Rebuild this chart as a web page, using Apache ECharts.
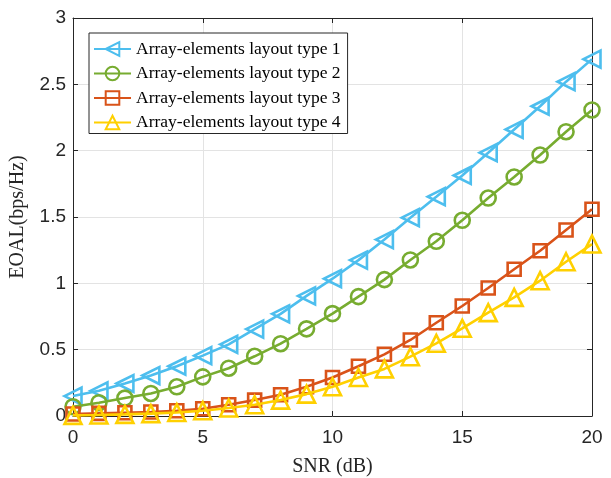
<!DOCTYPE html>
<html>
<head>
<meta charset="utf-8">
<script src="https://cdn.jsdelivr.net/npm/echarts@6/dist/echarts.min.js"></script>
<style>html,body{margin:0;padding:0;background:#fff}#c{width:611px;height:478px}</style>
</head>
<body>
<div id="c"></div>
<script>
const snr = [0,1,2,3,4,5,6,7,8,9,10,11,12,13,14,15,16,17,18,19,20];
const seriesNames = ['Array-elements layout type 1','Array-elements layout type 2','Array-elements layout type 3','Array-elements layout type 4'];
const type1 = [0.15,0.19,0.245,0.305,0.375,0.455,0.54,0.655,0.77,0.905,1.035,1.175,1.33,1.495,1.653,1.813,1.985,2.16,2.335,2.52,2.69];
const type2 = [0.07,0.10,0.135,0.17,0.22,0.295,0.36,0.45,0.545,0.657,0.772,0.9,1.028,1.176,1.317,1.475,1.643,1.802,1.967,2.143,2.307];
const type3 = [0.015,0.02,0.025,0.03,0.04,0.055,0.085,0.12,0.16,0.22,0.29,0.375,0.465,0.573,0.703,0.829,0.965,1.106,1.246,1.402,1.558];
const type4 = [0.005,0.008,0.012,0.018,0.026,0.04,0.06,0.085,0.12,0.165,0.22,0.29,0.355,0.447,0.548,0.661,0.779,0.894,1.02,1.163,1.296];
const xTicks = [0,5,10,15,20];
const yTicks = [0,0.5,1,1.5,2,2.5,3];

const colors = ['#4DBEEE','#77AC30','#D95319','#FFD000'];
const symbols = ['triangle','circle','rect','triangle'];
const rotates = [90,0,0,0];
const sizes = [17,15,13,17];
const allData = [type1,type2,type3,type4];

const axisColor = '#262626';
const serif = '"Liberation Serif","Times New Roman",serif';
const sans = '"Liberation Sans",Arial,sans-serif';

const chart = echarts.init(document.getElementById('c'), null, {renderer:'canvas'});
const series = allData.map((arr,i)=>({
  name: seriesNames[i],
  type: 'line',
  data: arr.map((v,j)=>[snr[j], v]),
  symbol: symbols[i],
  symbolRotate: rotates[i],
  symbolSize: sizes[i],
  showSymbol: true,
  lineStyle: {color: colors[i], width: 2.6},
  itemStyle: {color: 'rgba(255,255,255,0)', borderColor: colors[i], borderWidth: 2.6},
  emphasis: {disabled: true},
  animation: false,
  z: 2 + i
}));

const commonX = {type: 'value', min: 0, max: 20, interval: 5};
const commonY = {type: 'value', min: 0, max: 3, interval: 0.5};

chart.setOption({
  animation: false,
  backgroundColor: '#fff',
  grid: {left: 73, right: 19, top: 18, bottom: 62, containLabel: false, outerBoundsMode: 'none'},
  legend: {
    show: true,
    orient: 'vertical',
    left: 89, top: 33,
    data: seriesNames,
    backgroundColor: '#fff',
    borderColor: '#262626',
    borderWidth: 1,
    borderRadius: 0,
    padding: [7, 7, 2, 4],
    itemWidth: 37,
    itemHeight: 17,
    itemGap: 6.5,
    textStyle: {fontFamily: serif, fontSize: 17.5, color: '#000', lineHeight: 17},
    selectedMode: false
  },
  xAxis: [
    Object.assign({}, commonX, {
      position: 'bottom',
      name: 'SNR (dB)', nameLocation: 'middle', nameGap: 41,
      nameTextStyle: {fontFamily: serif, fontSize: 20, color: '#262626'},
      axisLine: {show: true, onZero: false, lineStyle: {color: axisColor, width: 1}},
      axisTick: {show: true, inside: true, length: 5, lineStyle: {color: axisColor}},
      axisLabel: {fontFamily: sans, fontSize: 19, color: '#262626', margin: 12,
        formatter: v => xTicks.includes(v) ? String(v) : ''},
      splitLine: {show: true, lineStyle: {color: '#e3e3e3', width: 1}}
    }),
    Object.assign({}, commonX, {
      position: 'top',
      axisLine: {show: true, onZero: false, lineStyle: {color: axisColor, width: 1}},
      axisTick: {show: true, inside: true, length: 5, lineStyle: {color: axisColor}},
      axisLabel: {show: false},
      splitLine: {show: false}
    })
  ],
  yAxis: [
    Object.assign({}, commonY, {
      position: 'left',
      name: 'EOAL(bps/Hz)', nameLocation: 'middle', nameGap: 45,
      nameTextStyle: {fontFamily: serif, fontSize: 20, color: '#262626'},
      axisLine: {show: true, onZero: false, lineStyle: {color: axisColor, width: 1}},
      axisTick: {show: true, inside: true, length: 5, lineStyle: {color: axisColor}},
      axisLabel: {fontFamily: sans, fontSize: 19, color: '#262626', margin: 7,
        formatter: v => yTicks.includes(v) ? String(v) : ''},
      splitLine: {show: true, lineStyle: {color: '#e3e3e3', width: 1}}
    }),
    Object.assign({}, commonY, {
      position: 'right',
      axisLine: {show: true, onZero: false, lineStyle: {color: axisColor, width: 1}},
      axisTick: {show: true, inside: true, length: 5, lineStyle: {color: axisColor}},
      axisLabel: {show: false},
      splitLine: {show: false}
    })
  ],
  series: series
});
</script>
</body>
</html>
